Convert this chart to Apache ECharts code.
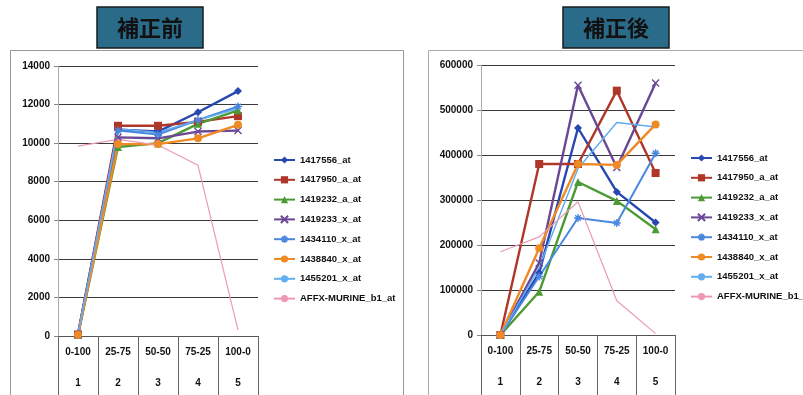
<!DOCTYPE html>
<html>
<head>
<meta charset="utf-8">
<script src="https://cdn.jsdelivr.net/npm/echarts@6/dist/echarts.min.js"></script>
<style>
  html, body { margin: 0; padding: 0; background: #fff; }
  #chart { width: 803px; height: 395px; }
</style>
</head>
<body>
<div id="chart"></div>
<script>
// Mixing ratios and sample numbers on the category axis
const ratioLabels = ['0-100', '25-75', '50-50', '75-25', '100-0'];
const indexLabels = ['1', '2', '3', '4', '5'];

const probeNames = ['1417556_at', '1417950_a_at', '1419232_a_at', '1419233_x_at',
  '1434110_x_at', '1438840_x_at', '1455201_x_at', 'AFFX-MURINE_b1_at'];

// Signal before correction
const before1417556 = [100, 10700, 10600, 11600, 12700];
const before1417950 = [80, 10900, 10900, 11100, 11400];
const before1419232 = [60, 9800, 10000, 11000, 11700];
const before1419233 = [60, 10300, 10250, 10600, 10650];
const before1434110 = [80, 10650, 10450, 11200, 11900];
const before1438840 = [60, 9950, 9950, 10250, 10950];
const before1455201 = [60, 10750, 10550, 11200, 11800];
const beforeAffx = [9850, 10200, 9900, 8850, 300];

// Signal after correction
const after1417556 = [0, 138000, 460000, 318000, 250000];
const after1417950 = [0, 380000, 380000, 543000, 360000];
const after1419232 = [0, 96000, 340000, 298000, 235000];
const after1419233 = [0, 160000, 555000, 372000, 560000];
const after1434110 = [0, 130000, 260000, 249000, 404000];
const after1438840 = [0, 193000, 380000, 378000, 468000];
const after1455201 = [0, 150000, 370000, 472000, 462000];
const afterAffx = [185000, 218000, 296000, 76000, 3000];

const beforeSets = [before1417556, before1417950, before1419232, before1419233,
  before1434110, before1438840, before1455201, beforeAffx];
const afterSets = [after1417556, after1417950, after1419232, after1419233,
  after1434110, after1438840, after1455201, afterAffx];

const crossPath = 'path://M0,0L10,10M10,0L0,10';
const starPath = 'path://M5,0L5,10M0,5L10,5M1.5,1.5L8.5,8.5M8.5,1.5L1.5,8.5';

const styles = [
  { color: '#2848b0', symbol: 'diamond', size: 8, width: 2.4 },
  { color: '#b0362a', symbol: 'rect', size: 8, width: 2.4 },
  { color: '#4c9a34', symbol: 'triangle', size: 8, width: 2.4 },
  { color: '#6a4896', symbol: crossPath, size: 7, width: 2.4, stroke: true },
  { color: '#4a88e0', symbol: starPath, size: 8, width: 2, stroke: true },
  { color: '#f08a24', symbol: 'circle', size: 8, width: 2.4 },
  { color: '#62aef0', symbol: 'none', size: 0, width: 1.5 },
  { color: '#ec9ab4', symbol: 'none', size: 0, width: 1.2 }
];

const axisFont = { fontFamily: 'Liberation Sans, Arial, sans-serif', fontSize: 10, fontWeight: 'bold', color: '#111' };

function categoryAxis(gridIndex) {
  return {
    type: 'category',
    gridIndex: gridIndex,
    data: ratioLabels,
    boundaryGap: true,
    axisLine: { lineStyle: { color: '#555', width: 1 } },
    axisTick: { show: true, interval: 0, length: 62, lineStyle: { color: '#666' } },
    axisLabel: {
      interval: 0,
      margin: 8,
      formatter: function (value, idx) {
        return '{a|' + value + '}\n{b|' + indexLabels[idx] + '}';
      },
      rich: {
        a: Object.assign({ lineHeight: 17 }, axisFont),
        b: Object.assign({ lineHeight: 44 }, axisFont)
      }
    }
  };
}

function valueAxis(gridIndex, max, interval) {
  return {
    type: 'value',
    gridIndex: gridIndex,
    min: 0,
    max: max,
    interval: interval,
    axisLine: { show: true, lineStyle: { color: '#aaa' } },
    axisTick: { show: true, length: 4, lineStyle: { color: '#888' } },
    axisLabel: Object.assign({ margin: 8, formatter: function (v) { return String(v); } }, axisFont),
    splitLine: { show: true, lineStyle: { color: '#3a3a3a', width: 1 } }
  };
}

function buildSeries(sets, axisIndex) {
  return sets.map(function (data, i) {
    const st = styles[i];
    return {
      name: probeNames[i],
      type: 'line',
      xAxisIndex: axisIndex,
      yAxisIndex: axisIndex,
      data: data,
      symbol: st.symbol,
      symbolSize: st.size,
      showSymbol: st.symbol !== 'none',
      animation: false,
      lineStyle: { color: st.color, width: st.width },
      itemStyle: st.stroke
        ? { color: st.color, borderColor: st.color, borderWidth: 1.4 }
        : { color: st.color },
      emphasis: { disabled: true }
    };
  });
}

function legendAt(left, top) {
  return {
    orient: 'vertical',
    left: left,
    top: top,
    padding: 0,
    itemWidth: 21,
    itemHeight: 9,
    itemGap: 9.8,
    data: probeNames,
    textStyle: { fontFamily: 'Liberation Sans, Arial, sans-serif', fontSize: 9.5, fontWeight: 'bold', color: '#111' }
  };
}

function titleBox(x, text) {
  return [
    {
      type: 'rect',
      shape: { x: x, y: 7, width: 106, height: 41 },
      style: { fill: '#2b6b8a', stroke: '#1b1b1b', lineWidth: 1.5 },
      z: 10
    },
    {
      type: 'text',
      x: x + 53,
      y: 28,
      style: {
        text: text,
        fill: '#111',
        font: 'bold 22px "Noto Sans CJK JP", sans-serif',
        align: 'center',
        verticalAlign: 'middle'
      },
      z: 11
    }
  ];
}

const chart = echarts.init(document.getElementById('chart'), null, { renderer: 'canvas' });

chart.setOption({
  backgroundColor: '#fff',
  animation: false,
  grid: [
    { left: 58, top: 66, width: 200, height: 270 },
    { left: 481, top: 65, width: 194, height: 270 }
  ],
  xAxis: [categoryAxis(0), categoryAxis(1)],
  yAxis: [valueAxis(0, 14000, 2000), valueAxis(1, 600000, 100000)],
  legend: [legendAt(273, 155), legendAt(690, 153)],
  graphic: [
    {
      type: 'rect',
      shape: { x: 10.5, y: 50.5, width: 393, height: 360 },
      style: { fill: 'none', stroke: '#999', lineWidth: 1 },
      silent: true
    },
    {
      type: 'rect',
      shape: { x: 428.5, y: 50.5, width: 390, height: 360 },
      style: { fill: 'none', stroke: '#aaa', lineWidth: 1 },
      silent: true
    }
  ].concat(titleBox(97, '補正前'), titleBox(563, '補正後')),
  series: buildSeries(beforeSets, 0).concat(buildSeries(afterSets, 1))
});
</script>
</body>
</html>
